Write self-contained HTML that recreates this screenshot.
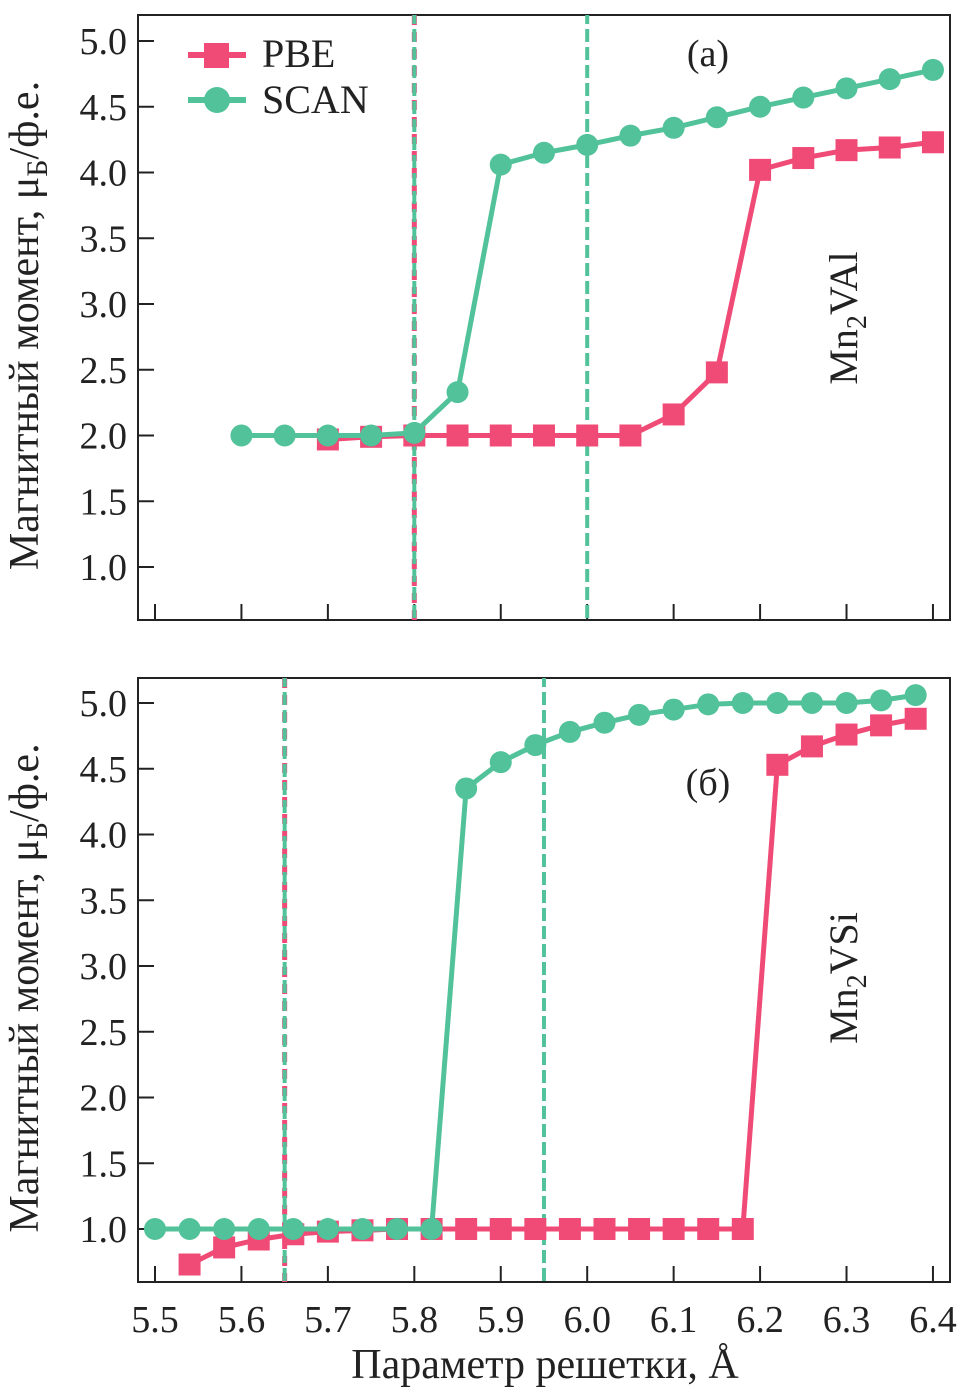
<!DOCTYPE html>
<html><head><meta charset="utf-8"><style>
html,body{margin:0;padding:0;background:#fff;}
text{font-family:"Liberation Serif","DejaVu Serif",serif !important;fill:#222;}
</style></head><body>
<svg id="chart" width="961" height="1392" viewBox="0 0 961 1392" xmlns="http://www.w3.org/2000/svg" font-family="Liberation Serif, serif"></svg>
<script>
const xTicks=[5.5,5.6,5.7,5.8,5.9,6.0,6.1,6.2,6.3,6.4];
const yTicks=[1.0,1.5,2.0,2.5,3.0,3.5,4.0,4.5,5.0];
const aScanX=[5.6,5.65,5.7,5.75,5.8,5.85,5.9,5.95,6.0,6.05,6.1,6.15,6.2,6.25,6.3,6.35,6.4];
const aScanY=[2.0,2.0,2.0,2.0,2.02,2.33,4.06,4.15,4.21,4.28,4.34,4.42,4.50,4.57,4.64,4.71,4.78];
const aPbeX=[5.7,5.75,5.8,5.85,5.9,5.95,6.0,6.05,6.1,6.15,6.2,6.25,6.3,6.35,6.4];
const aPbeY=[1.97,1.99,2.0,2.0,2.0,2.0,2.0,2.0,2.16,2.48,4.02,4.11,4.17,4.19,4.23];
const bScanX=[5.5,5.54,5.58,5.62,5.66,5.70,5.74,5.78,5.82,5.86,5.90,5.94,5.98,6.02,6.06,6.10,6.14,6.18,6.22,6.26,6.30,6.34,6.38];
const bScanY=[1.0,1.0,1.0,1.0,1.0,1.0,1.0,1.0,1.0,4.35,4.55,4.68,4.78,4.85,4.91,4.95,4.99,5.0,5.0,5.0,5.0,5.02,5.06];
const bPbeX=[5.54,5.58,5.62,5.66,5.70,5.74,5.78,5.82,5.86,5.90,5.94,5.98,6.02,6.06,6.10,6.14,6.18,6.22,6.26,6.30,6.34,6.38];
const bPbeY=[0.73,0.86,0.92,0.96,0.98,0.99,1.0,1.0,1.0,1.0,1.0,1.0,1.0,1.0,1.0,1.0,1.0,4.53,4.67,4.76,4.83,4.88];
const aVlines=[5.8,6.0];
const bVlines=[5.65,5.95];

const PINK="#f04a77",GREEN="#52c29a",NS="http://www.w3.org/2000/svg",FF="Liberation Serif, serif";
const svg=document.getElementById('chart');
function mk(tag,attrs,parent){const e=document.createElementNS(NS,tag);for(const k in attrs)e.setAttribute(k,attrs[k]);if(tag==='text')e.setAttribute('font-family',FF);(parent||svg).appendChild(e);return e;}
const X=v=>155+(v-5.5)/0.1*86.44;

function panel(top,bottom,y5,name,sx,sy,px,py,vl,label,mat,showXLabels){
  const Y=v=>y5+(5-v)/0.5*65.75;
  const g=mk('g',{});
  
  
  const box=mk('rect',{x:138,y:top,width:812,height:bottom-top,fill:'none',stroke:'#222','stroke-width':2},g);
  
  yTicks.forEach(t=>{
    const l=mk('line',{x1:138,x2:154,y1:Y(t),y2:Y(t),stroke:'#222','stroke-width':2},g);
    
    const tx=mk('text',{x:127,y:Y(t)+13,'font-size':38,'text-anchor':'end'},g);
    
    tx.textContent=t.toFixed(1);
  });
  xTicks.forEach(t=>{
    const l=mk('line',{x1:X(t),x2:X(t),y1:bottom,y2:bottom-16,stroke:'#222','stroke-width':2},g);
    
    if(showXLabels){
      const tx=mk('text',{x:X(t),y:bottom+50,'font-size':38,'text-anchor':'middle'},g);
      
      tx.textContent=t.toFixed(1);
    }
  });
  vl.forEach((v,i)=>{
    if(i===0){
      const p=mk('line',{x1:X(v),x2:X(v),y1:top,y2:bottom,stroke:PINK,'stroke-width':5,'stroke-dasharray':'10 7'},g);
      
    }
    const l=mk('line',{x1:X(v),x2:X(v),y1:top,y2:bottom,stroke:GREEN,'stroke-width':4,'stroke-dasharray':'13 5','stroke-dashoffset':4},g);
    
  });
  const pl=mk('polyline',{points:px.map((x,i)=>X(x)+','+Y(py[i])).join(' '),fill:'none',stroke:PINK,'stroke-width':5},g);
  
  px.forEach((x,i)=>{
    const r=mk('rect',{x:X(x)-11,y:Y(py[i])-11,width:22,height:22,fill:PINK},g);
    
  });
  const sl=mk('polyline',{points:sx.map((x,i)=>X(x)+','+Y(sy[i])).join(' '),fill:'none',stroke:GREEN,'stroke-width':5},g);
  
  sx.forEach((x,i)=>{
    const c=mk('circle',{cx:X(x),cy:Y(sy[i]),r:11,fill:GREEN},g);
    
  });
  const lb=mk('text',{x:708,y:label,'font-size':38,'text-anchor':'middle'},g);
  
  lb.textContent=name==='panel-a'?'(a)':'(б)';
  const cy=(top+bottom)/2+8;
  const yl=mk('text',{x:0,y:0,'font-size':42,'text-anchor':'middle',transform:`translate(38,${cy}) rotate(-90)`},g);
  
  yl.innerHTML='Магнитный момент, μ<tspan font-size="30" dy="9">Б</tspan><tspan dy="-9">/ф.е.</tspan>';
  const mt=mk('text',{x:0,y:0,'font-size':40,'text-anchor':'middle',transform:`translate(857,${mat}) rotate(-90)`},g);
  
  mt.innerHTML=name==='panel-a'?'Mn<tspan font-size="28" dy="9">2</tspan><tspan dy="-9">VAl</tspan>':'Mn<tspan font-size="28" dy="9">2</tspan><tspan dy="-9">VSi</tspan>';
}
panel(15,620,41,'panel-a',aScanX,aScanY,aPbeX,aPbeY,aVlines,66,318,false);
panel(678,1282,703,'panel-b',bScanX,bScanY,bPbeX,bPbeY,bVlines,795,978,true);

// legend
const lg=mk('g',{});
const l1=mk('line',{x1:188,x2:246,y1:55,y2:55,stroke:PINK,'stroke-width':6},lg);
const r1=mk('rect',{x:204,y:43,width:25,height:25,fill:PINK},lg);
const t1=mk('text',{x:262,y:67,'font-size':40},lg);t1.textContent='PBE';
const l2=mk('line',{x1:188,x2:246,y1:100,y2:100,stroke:GREEN,'stroke-width':6},lg);
const c2=mk('circle',{cx:217,cy:100,r:13,fill:GREEN},lg);
const t2=mk('text',{x:262,y:113,'font-size':40},lg);t2.textContent='SCAN';

const xt=mk('text',{x:545,y:1378,'font-size':42,'text-anchor':'middle'});

xt.textContent='Параметр решетки, Å';
</script>
</body></html>
